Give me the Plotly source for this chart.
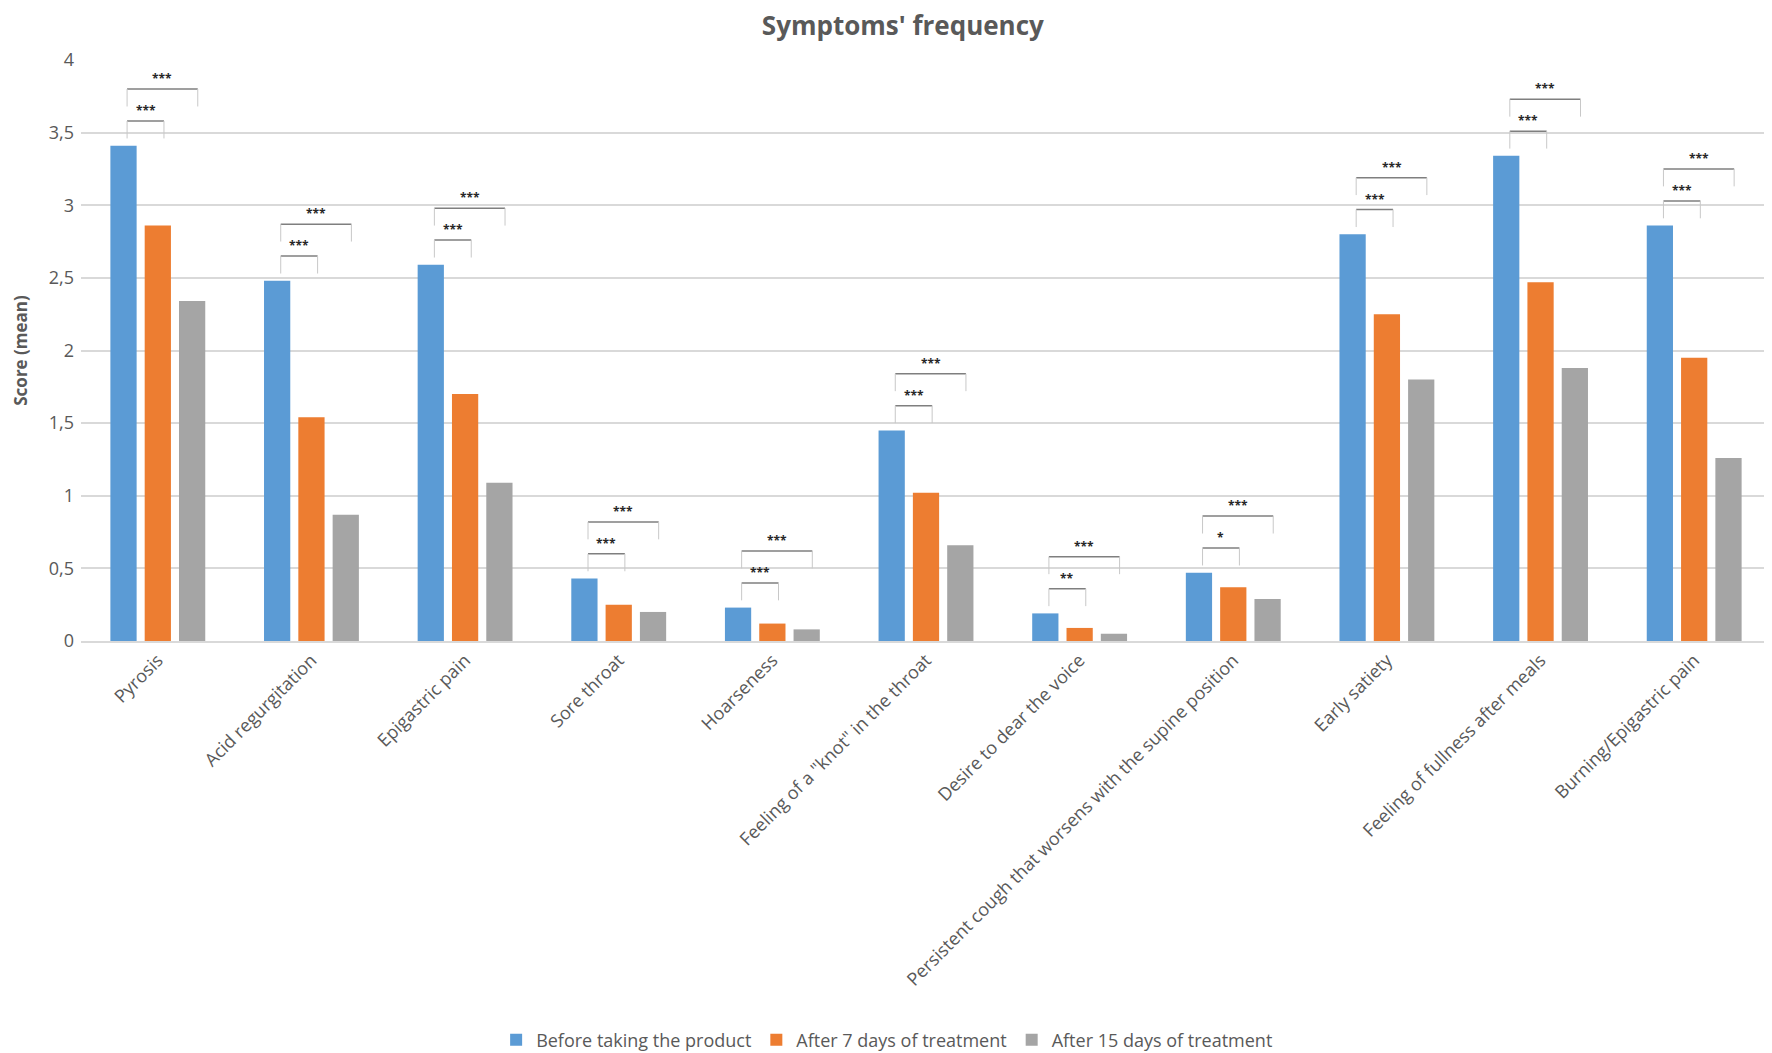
import plotly.graph_objects as go

symptoms = [
    "Pyrosis", "Acid regurgitation", "Epigastric pain", "Sore throat", "Hoarseness",
    'Feeling of a "knot" in the throat', "Desire to dear the voice",
    "Persistent cough that worsens with the supine position", "Early satiety",
    "Feeling of fullness after meals", "Burning/Epigastric pain",
]
before = [3.41, 2.48, 2.59, 0.43, 0.23, 1.45, 0.19, 0.47, 2.80, 3.34, 2.86]
after_7 = [2.86, 1.54, 1.70, 0.25, 0.12, 1.02, 0.09, 0.37, 2.25, 2.47, 1.95]
after_15 = [2.34, 0.87, 1.09, 0.20, 0.08, 0.66, 0.05, 0.29, 1.80, 1.88, 1.26]
sig_7 = ["***", "***", "***", "***", "***", "***", "**", "*", "***", "***", "***"]
sig_15 = ["***"] * 11

TXT = "#595959"
FONT = "Open Sans"

fig = go.Figure()
for name, vals, col in [
    ("Before taking the product", before, "#5B9BD5"),
    ("After 7 days of treatment", after_7, "#ED7D31"),
    ("After 15 days of treatment", after_15, "#A5A5A5"),
]:
    fig.add_trace(go.Bar(x=symptoms, y=vals, name=name, marker=dict(color=col, line=dict(width=0))))

# significance brackets, placed relative to the "before" bar
for i, v in enumerate(before):
    for top, leg, x_end, label in [(0.17, 0.05, 0.04, sig_7[i]), (0.39, 0.27, 0.26, sig_15[i])]:
        x0, x1 = i - 0.2, i + x_end
        fig.add_shape(type="line", xref="x", yref="y", x0=x0, x1=x1, y0=v + top, y1=v + top,
                      line=dict(color="#7F7F7F", width=1.5))
        for xx in (x0, x1):
            fig.add_shape(type="line", xref="x", yref="y", x0=xx, x1=xx, y0=v + leg, y1=v + top,
                          line=dict(color="#C8C8C8", width=1))
        fig.add_annotation(x=(x0 + x1) / 2, y=v + top, xref="x", yref="y", text=f"<b>{label}</b>",
                           showarrow=False, yanchor="bottom", yshift=0,
                           font=dict(family=FONT, size=12, color="#262626"))

fig.update_layout(
    width=1772, height=1053,
    paper_bgcolor="white", plot_bgcolor="white",
    margin=dict(l=73, r=9, t=52, b=420),
    separators=",.",
    barmode="group", bargap=0.33, bargroupgap=0.235,
    font=dict(family=FONT, color=TXT, size=16),
    title=dict(text="<b>Symptoms' frequency</b>", x=0.505, xanchor="center",
               yref="container", y=0.983, yanchor="middle",
               font=dict(family=FONT, size=26, color=TXT)),
    legend=dict(orientation="h", xref="paper", x=0.477, xanchor="center",
                yref="container", y=0.02, yanchor="middle",
                font=dict(family=FONT, size=18, color=TXT),
                itemwidth=30, traceorder="normal"),
    showlegend=True,
)
fig.update_xaxes(tickangle=-45, tickfont=dict(family=FONT, size=18, color=TXT),
                 showline=True, linecolor="#D9D9D9", linewidth=1.5, ticks="",
                 showgrid=False)
fig.update_yaxes(range=[0, 4], dtick=0.5, showgrid=True, gridcolor="#D9D9D9", gridwidth=1.5,
                 zeroline=False, tickfont=dict(family=FONT, size=18, color=TXT), ticklabelstandoff=6,
                 title=dict(text="<b>Score (mean)</b>", font=dict(family=FONT, size=17, color=TXT), standoff=16))

fig.write_html("out.html")
